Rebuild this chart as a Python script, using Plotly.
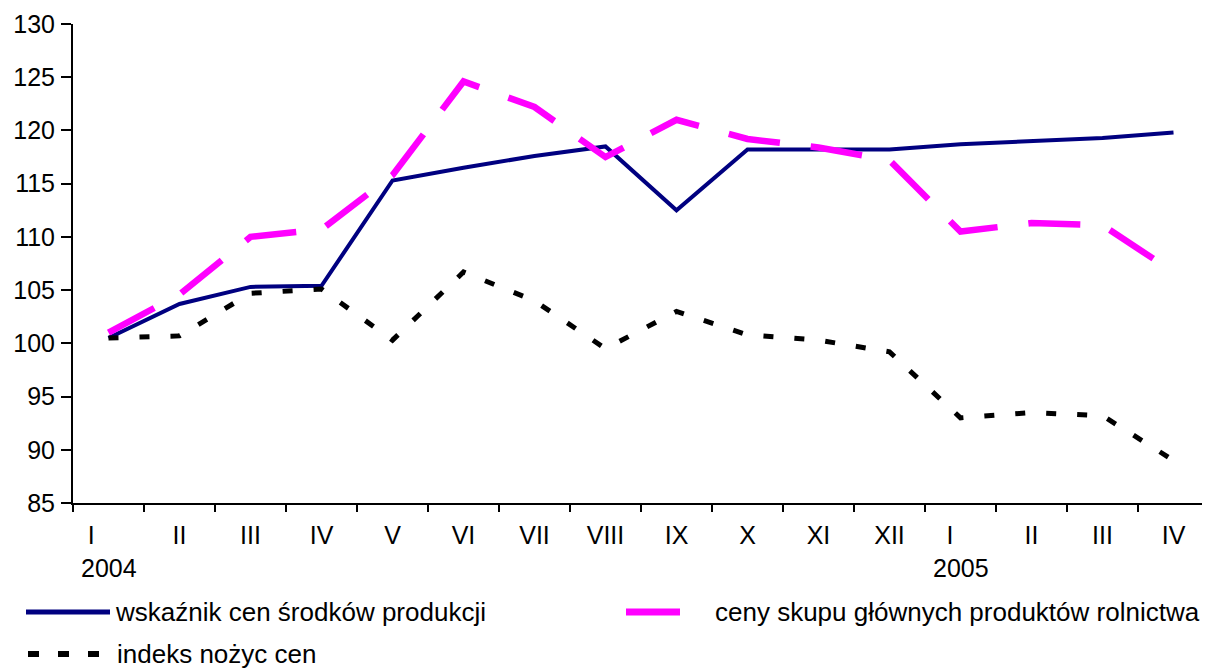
import plotly.graph_objects as go

# ---- data ----
months = ["I", "II", "III", "IV", "V", "VI", "VII", "VIII", "IX", "X", "XI", "XII",
          "I", "II", "III", "IV"]
years = ["2004", "2005"]
year_start_idx = [0, 12]

wskaznik = [100.5, 103.7, 105.3, 105.4, 115.3, 116.5, 117.6, 118.5, 112.5, 118.2,
            118.2, 118.2, 118.7, 119.0, 119.3, 119.8]
ceny_skupu = [101.0, 104.6, 110.0, 110.7, 115.8, 124.6, 122.2, 117.5, 121.0, 119.2,
              118.4, 117.2, 110.5, 111.3, 111.1, 106.7]
indeks = [100.5, 100.7, 104.7, 105.1, 100.3, 106.7, 104.0, 99.5, 103.0, 100.8,
          100.3, 99.2, 93.0, 93.5, 93.2, 89.0]

names = ["wskaźnik cen środków produkcji",
         "ceny skupu głównych produktów rolnictwa",
         "indeks nożyc cen"]

FONT = "Arial, 'Liberation Sans', sans-serif"
OFF = 8  # page body margin
W, H = 1210 - OFF, 670 - OFF
ML, MR, MT, MB = 73 - OFF, 1, 24 - OFF, 167
PW, PH = W - ML - MR, H - MT - MB

x = list(range(len(months)))

fig = go.Figure()
fig.add_trace(go.Scatter(x=x, y=wskaznik, mode="lines", name=names[0],
                         line=dict(color="#000080", width=4)))
fig.add_trace(go.Scatter(x=x, y=ceny_skupu, mode="lines", name=names[1],
                         line=dict(color="#FF00FF", width=6.5, dash="52px,31px")))
fig.add_trace(go.Scatter(x=x, y=indeks, mode="lines", name=names[2],
                         line=dict(color="#000000", width=5, dash="10px,21px")))

# tick text: first month of each year is shifted left a bit (as in the original)
pad = {0: 5, 12: 3}
ticktext = [m + "\u00a0" * pad.get(i, 0) for i, m in enumerate(months)]

fig.update_xaxes(
    range=[-0.5, len(months) - 0.5], tickmode="array", tickvals=x, ticktext=ticktext,
    ticks="", showline=True, linecolor="black", linewidth=2, showgrid=False,
    zeroline=False, tickfont=dict(size=25, color="black", family=FONT),
    ticklabelstandoff=9,
    minor=dict(tickmode="array", tickvals=[i - 0.5 for i in range(len(months) + 1)],
               ticks="outside", ticklen=7, tickwidth=2, tickcolor="black", showgrid=False),
)
fig.update_yaxes(
    range=[85, 130], dtick=5, tick0=85, ticks="outside", ticklen=10, tickwidth=2,
    tickcolor="black", showline=True, linecolor="black", linewidth=2, showgrid=False,
    zeroline=False, tickfont=dict(size=25, color="black", family=FONT),
    ticklabelstandoff=1,
)

def px_x(px):
    return (px - OFF - ML) / PW

def px_y(py):
    return (H - MB - (py - OFF)) / PH

annotations = []
for yr, idx in zip(years, year_start_idx):
    annotations.append(dict(x=idx, xref="x", y=px_y(568), yref="paper", text=yr,
                            showarrow=False, xanchor="center", yanchor="middle",
                            font=dict(size=25, color="black", family=FONT)))

shapes = []
legend_items = [
    (names[0], "#000080", 5, "solid", 26, 110, 612, 113),
    (names[1], "#FF00FF", 7, "solid", 626, 680, 612, 713),
    (names[2], "#000000", 6, "11px,19px", 28, 99, 654, 115),
]
for name, col, w, dash, x0, x1, yy, tx in legend_items:
    shapes.append(dict(type="line", xref="paper", yref="paper",
                       x0=px_x(x0), x1=px_x(x1), y0=px_y(yy), y1=px_y(yy),
                       line=dict(color=col, width=w, dash=dash)))
    annotations.append(dict(x=px_x(tx), xref="paper", y=px_y(yy), yref="paper",
                            text=name, showarrow=False, xanchor="left", yanchor="middle",
                            font=dict(size=26, color="black", family=FONT)))

fig.update_layout(
    width=W, height=H, margin=dict(l=ML, r=MR, t=MT, b=MB),
    paper_bgcolor="white", plot_bgcolor="white", showlegend=False,
    font=dict(family=FONT, color="black"),
    annotations=annotations, shapes=shapes,
)

fig.write_html("out.html")
